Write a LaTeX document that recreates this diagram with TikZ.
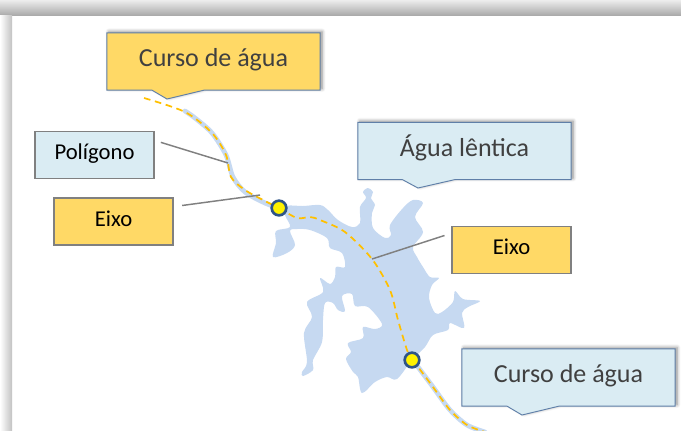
\documentclass[tikz,border=0pt]{standalone}
\usepackage{fontspec}
\setmainfont{Carlito}
\usetikzlibrary{shapes.callouts,shadows.blur}

\definecolor{lago}{HTML}{C6D9F1}
\definecolor{ouro}{HTML}{FFD966}
\definecolor{gelo}{HTML}{DAECF3}
\definecolor{contorno}{HTML}{5F7FA8}
\definecolor{traco}{HTML}{FFC000}
\definecolor{azulponto}{HTML}{2F5587}

\tikzset{
  titulo/.style={rectangle callout, draw=contorno, line width=0.7pt, inner sep=0pt, outer sep=0pt,
    minimum width=160pt, minimum height=43pt, callout pointer width=39pt,
    font=\fontsize{19.5}{22}\selectfont, text=black!75, text height=.76em, text depth=0pt,
    blur shadow={shadow xshift=1.5pt, shadow yshift=1pt, shadow blur radius=2.5pt, shadow blur steps=6, shadow opacity=45}},
  rotulo/.style={rectangle, draw=black!50, line width=1.1pt, inner sep=0pt, outer sep=0pt,
    minimum width=89pt, minimum height=35pt, font=\fontsize{17}{19}\selectfont,
    text height=.68em, text depth=0pt},
  guia/.style={draw=black!50, line width=1.1pt},
  eixoline/.style={draw=traco, line width=1.3pt, dash pattern=on 5pt off 3.5pt},
  rio/.style={draw=lago, line width=3.6pt, line cap=round},
  ponto/.style={circle, draw=azulponto, fill=yellow, line width=2pt, minimum size=11pt, inner sep=0pt}
}

\begin{document}
\begin{tikzpicture}[x=0.75pt,y=-0.75pt]
  \useasboundingbox (0,0) rectangle (681,430);
  % moldura
  \shade [top color=black!7, bottom color=black!33] (0,0) rectangle (681,15);
  \shade [left color=white, right color=black!24] (0,15) rectangle (12,430);

  \coordinate (pontoA) at (279,208);
  \coordinate (pontoB) at (412,360);
  \coordinate (fimPoligono) at (228,163);
  \coordinate (fimEixoA) at (260,195);
  \coordinate (fimEixoB) at (372,259);

  % lago
  \fill [lago] plot [smooth cycle, tension=0.55] coordinates {
    (287,206) (303,206) (320,205) (328,210) (338,220) (352,227) (360,223) (360,207)
    (366,198) (363,192) (368,188) (373,192) (371,198) (375,205) (372,213) (373,228)
    (385,238) (391,235) (390,225) (403,208) (413,200) (423,203) (415,217) (423,232)
    (413,247) (417,257) (423,267) (430,277) (439,278) (432,285) (429,298) (435,313)
    (442,312) (453,302) (455,291) (463,299) (480,301) (468,307) (462,313) (464,328)
    (450,323) (448,330) (433,335) (425,347) (412,360) (397,379) (387,377) (375,382)
    (362,393) (358,377) (353,372) (346,359) (351,352) (348,343) (363,338) (363,327)
    (375,329) (382,324) (368,307) (355,306) (352,294) (342,296) (345,311) (338,310)
    (333,303) (325,303) (323,320) (322,342) (313,360) (313,370) (303,376) (302,372)
    (307,362) (304,333) (312,317) (307,302) (323,292) (320,278) (330,284) (335,277)
    (336,267) (345,267) (342,253) (330,248) (327,238) (310,230) (297,229) (290,231)
    (295,245) (287,253) (273,257) (276,243) (276,231) (290,227) (285,215)};

  % cursos de agua
  \draw [rio] plot [smooth] coordinates {(185,111) (195,118) (212,133) (226,155) (233,177) (245,192) (265,203) (pontoA)};
  \draw [rio] plot [smooth] coordinates {(pontoB) (418,367) (433,387) (450,410) (467,425) (485,432)};

  % eixos
  \draw [eixoline] plot [smooth] coordinates {(144,98) (185,112) (212,133) (226,155) (231,177) (245,190) (265,201) (pontoA)};
  \draw [eixoline] plot [smooth] coordinates {(pontoA) (297,218) (310,217) (320,220) (345,232) (372,259) (390,290) (398,320) (407,350) (pontoB)};
  \draw [eixoline] plot [smooth] coordinates {(pontoB) (418,367) (433,387) (450,410) (467,425) (485,432)};

  \node (cursoA) [titulo, fill=ouro, callout absolute pointer={(167,99)}] at (213.5,61.5) {Curso de água};
  \node (agua) [titulo, fill=gelo, callout absolute pointer={(418,188)}] at (464.5,151) {Água lêntica};
  \node (poligono) [rotulo, fill=gelo] at (94.5,155) {Polígono};
  \node (eixoA) [rotulo, fill=ouro, below of=poligono, node distance=49.9pt, xshift=14.25pt] {Eixo};
  \node (eixoB) [rotulo, fill=ouro, below of=agua, node distance=74.25pt, xshift=35.25pt] {Eixo};
  \node (cursoB) [titulo, fill=gelo, below of=eixoB, node distance=95.6pt, xshift=42.75pt,
    callout absolute pointer={(522,415)}] {Curso de água};

  \draw [guia, shorten <=5.5pt] (poligono.14) -- (fimPoligono);
  \draw [guia, shorten <=7pt] (eixoA.14.6) -- (fimEixoA);
  \draw [guia, shorten <=6pt] (eixoB.164.4) -- (fimEixoB);

  \node (juncaoA) [ponto] at (pontoA) {};
  \node (juncaoB) [ponto] at (pontoB) {};
\end{tikzpicture}
\end{document}
